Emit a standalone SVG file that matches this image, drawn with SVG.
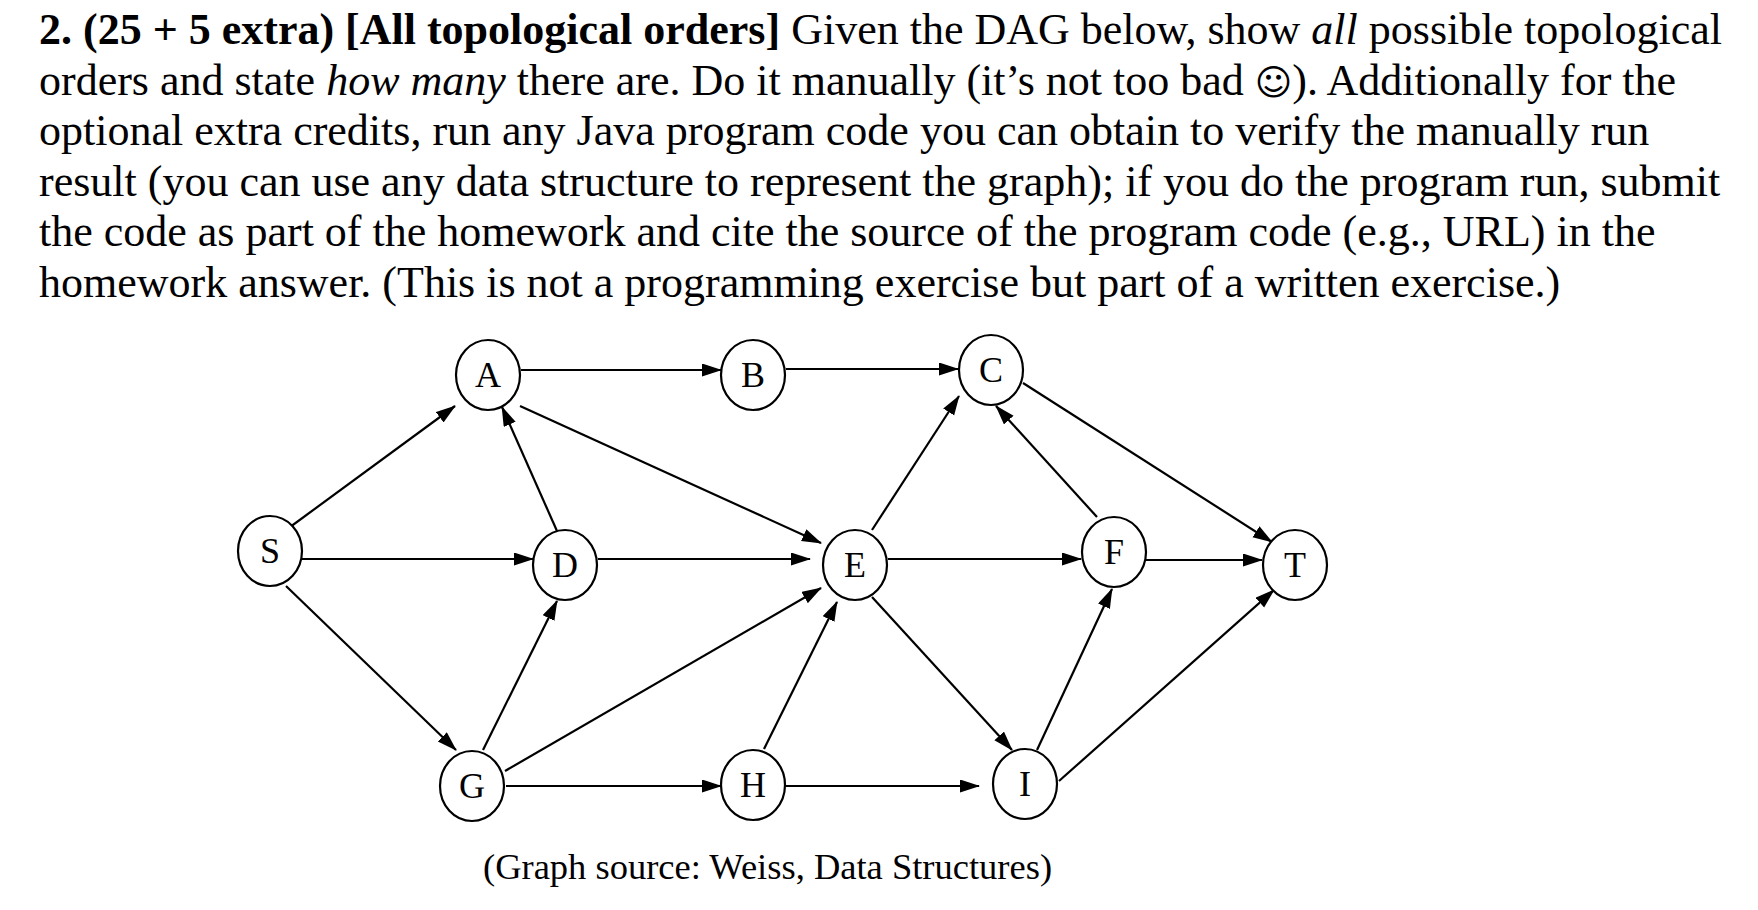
<svg xmlns="http://www.w3.org/2000/svg" width="1758" height="910" viewBox="0 0 1758 910">
<style>
  .t { font-family: "Liberation Serif", "Times New Roman", serif; font-size: 44px; fill: #000; }
  .b { font-weight: bold; }
  .i { font-style: italic; }
  .sm { font-family: "DejaVu Sans", sans-serif; font-size: 36px; }
  .node ellipse { fill: #fff; stroke: #000; stroke-width: 2.2; }
  .node text { font-family: "Liberation Serif", "Times New Roman", serif; font-size: 36px; text-anchor: middle; fill: #000; }
  .edges line { stroke: #000; stroke-width: 2.2; marker-end: url(#arr); }
  .cap { font-family: "Liberation Serif", "Times New Roman", serif; font-size: 36.5px; fill: #000; }
</style>
<defs>
  <marker id="arr" markerUnits="userSpaceOnUse" markerWidth="21" markerHeight="14" refX="19" refY="6.5" orient="auto">
    <path d="M0,0 L20,6.5 L0,13 z" fill="#000"/>
  </marker>
</defs>
<rect width="1758" height="910" fill="#fff"/>
<g id="question">
  <text class="t" x="39" y="44"><tspan class="b">2. (25 + 5 extra) [All topological orders]</tspan> Given the DAG below, show <tspan class="i">all</tspan> possible topological</text>
  <text class="t" x="39" y="94.5">orders and state <tspan class="i">how many</tspan> there are. Do it manually (it’s not too bad <tspan class="sm">☺</tspan>). Additionally for the</text>
  <text class="t" x="39" y="145">optional extra credits, run any Java program code you can obtain to verify the manually run</text>
  <text class="t" x="39" y="195.5">result (you can use any data structure to represent the graph); if you do the program run, submit</text>
  <text class="t" x="39" y="246">the code as part of the homework and cite the source of the program code (e.g., URL) in the</text>
  <text class="t" x="39" y="296.5">homework answer. (This is not a programming exercise but part of a written exercise.)</text>
</g>
<g id="connectors" class="edges">
  <line x1="286" y1="530" x2="455" y2="406"/>
  <line x1="302" y1="559" x2="533" y2="559"/>
  <line x1="286" y1="586" x2="456" y2="750"/>
  <line x1="521" y1="370" x2="721" y2="370"/>
  <line x1="520" y1="406" x2="821" y2="543"/>
  <line x1="557" y1="531" x2="502" y2="407"/>
  <line x1="598" y1="559" x2="810" y2="559"/>
  <line x1="483" y1="750" x2="557" y2="601"/>
  <line x1="505" y1="771" x2="821" y2="588"/>
  <line x1="506" y1="786" x2="721" y2="786"/>
  <line x1="764" y1="749" x2="837" y2="602"/>
  <line x1="786" y1="786" x2="979" y2="786"/>
  <line x1="786" y1="369" x2="958" y2="369"/>
  <line x1="872" y1="530" x2="959" y2="396"/>
  <line x1="888" y1="559" x2="1081" y2="559"/>
  <line x1="872" y1="597" x2="1012" y2="750"/>
  <line x1="1097" y1="517" x2="996" y2="406"/>
  <line x1="1146" y1="560" x2="1262" y2="560"/>
  <line x1="1023" y1="383" x2="1272" y2="542"/>
  <line x1="1037" y1="750" x2="1112" y2="589"/>
  <line x1="1059" y1="781" x2="1274" y2="590"/>
</g>
<g id="node-S" class="node"><ellipse cx="270" cy="551" rx="32" ry="35"/><text x="270" y="563">S</text></g>
<g id="node-A" class="node"><ellipse cx="488" cy="375" rx="32" ry="35"/><text x="488" y="387">A</text></g>
<g id="node-B" class="node"><ellipse cx="753" cy="375" rx="32" ry="35"/><text x="753" y="387">B</text></g>
<g id="node-C" class="node"><ellipse cx="991" cy="370" rx="32" ry="35"/><text x="991" y="382">C</text></g>
<g id="node-D" class="node"><ellipse cx="565" cy="565" rx="32" ry="35"/><text x="565" y="577">D</text></g>
<g id="node-E" class="node"><ellipse cx="855" cy="565" rx="32" ry="35"/><text x="855" y="577">E</text></g>
<g id="node-F" class="node"><ellipse cx="1114" cy="552" rx="32" ry="35"/><text x="1114" y="564">F</text></g>
<g id="node-T" class="node"><ellipse cx="1295" cy="565" rx="32" ry="35"/><text x="1295" y="577">T</text></g>
<g id="node-G" class="node"><ellipse cx="472" cy="786" rx="32" ry="35"/><text x="472" y="798">G</text></g>
<g id="node-H" class="node"><ellipse cx="753" cy="785" rx="32" ry="35"/><text x="753" y="797">H</text></g>
<g id="node-I" class="node"><ellipse cx="1025" cy="784" rx="32" ry="35"/><text x="1025" y="796">I</text></g>
<text id="caption" class="cap" x="483" y="879">(Graph source: Weiss, Data Structures)</text>
</svg>
